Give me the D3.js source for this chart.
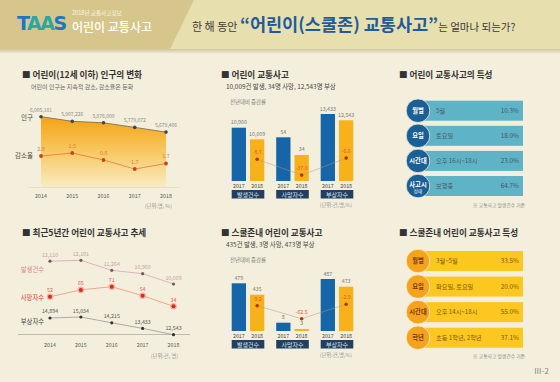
<!DOCTYPE html>
<html><head><meta charset="utf-8">
<script src="https://cdn.jsdelivr.net/npm/d3@7"></script>
<style>
body{margin:0;background:#f3efdc;}
svg{display:block;font-family:"Noto Sans CJK KR","Noto Sans",sans-serif;}
</style>
</head><body>
<svg id="c" width="560" height="382"></svg>
<script>
// ---------- DATA ----------
const years = [2014, 2015, 2016, 2017, 2018];
const population = [6005181, 5907226, 5876009, 5779072, 5679406];
const declineRateLabels = ["2.8", "1.5", "0.8", "1.7", "1.7"];
const declineRateLevel = [2.2, 2.5, 1.8, 0.9, 1.45];

const trendAccidents = [12110, 12191, 11264, 10960, 10009];
const trendDeaths = [52, 65, 71, 54, 34];
const trendInjuries = [14894, 15034, 14215, 13433, 12543];

const cmpCategories = ["발생건수", "사망자수", "부상자수"];
const cmpYears = ["2017", "2018"];
const childAcc2017 = [10960, 54, 13433];
const childAcc2018 = [10009, 34, 12543];
const childAccRate = [-8.7, -37.0, -6.6];
const schoolAcc2017 = [479, 8, 487];
const schoolAcc2018 = [435, 3, 473];
const schoolAccRate = [-9.2, -62.5, -2.9];

const charCats = ["월별", "요일", "시간대", "사고시 상태"];
const charItems = ["5월", "토요일", "오후 16시~18시", "보행중"];
const charPct = [10.3, 18.0, 23.0, 64.7];
const schoolCharCats = ["월별", "요일", "시간대", "학년"];
const schoolCharItems = ["3월~5월", "화요일, 토요일", "오후 14시~18시", "초등 1학년, 2학년"];
const schoolCharPct = [33.5, 20.0, 55.0, 37.1];

// ---------- DRAW ----------
const svg = d3.select("#c");
const fmt = d3.format(",");
const defs = svg.append("defs");

// background
svg.append("rect").attr("width", 560).attr("height", 382).attr("fill", "#f3efdc");

// header
const sh = defs.append("linearGradient").attr("id", "sh").attr("x1", 0).attr("x2", 0).attr("y1", 0).attr("y2", 1);
sh.append("stop").attr("offset", 0).attr("stop-color", "#c8bd92");
sh.append("stop").attr("offset", 1).attr("stop-color", "#f3efdc");
svg.append("rect").attr("x", 0).attr("y", 48).attr("width", 560).attr("height", 6).attr("fill", "url(#sh)");
svg.append("rect").attr("x", 0).attr("y", 0).attr("width", 560).attr("height", 49).attr("fill", "#e8dfae");
svg.append("path").attr("d", "M0,0 L194,0 L170,49 L0,49 Z").attr("fill", "#d6c68c");

const logo = svg.append("text").attr("x", 17).attr("y", 30).attr("font-size", 19).attr("font-weight", 900)
  .attr("font-family", "'DejaVu Sans',sans-serif").attr("letter-spacing", -1.5);
logo.append("tspan").text("T").attr("fill", "#1b78be");
logo.append("tspan").text("AA").attr("fill", "#2aa6a4");
logo.append("tspan").text("S").attr("fill", "#1b78be");
svg.append("text").attr("x", 72).attr("y", 14.5).attr("font-size", 5.6).attr("fill", "#fbf6e0").text("2018년 교통사고정보");
svg.append("text").attr("x", 72).attr("y", 31.5).attr("font-size", 12).attr("font-weight", 500).attr("fill", "#ffffff").text("어린이 교통사고");

const ttl = svg.append("text").attr("x", 192).attr("y", 31).attr("fill", "#3a3a3a");
ttl.append("tspan").attr("font-size", 11).text("한 해 동안 ");
ttl.append("tspan").attr("font-size", 17.5).attr("font-weight", 700).attr("fill", "#1f5b9c").text("“어린이(스쿨존) 교통사고”");
ttl.append("tspan").attr("font-size", 10.5).text("는 얼마나 되는가?");

function title(x, y, t) {
  svg.append("text").attr("x", x).attr("y", y).attr("font-size", 8.6).attr("font-weight", 700)
    .attr("fill", "#333").text("■ " + t);
}
function small(x, y, t, size, color, anchor) {
  return svg.append("text").attr("x", x).attr("y", y).attr("font-size", size).attr("fill", color)
    .attr("text-anchor", anchor || "start").text(t);
}

// ---------- Panel 1: population ----------
title(22, 78, "어린이(12세 이하) 인구의 변화");
small(31, 89, "어린이 인구는 지속적 감소, 감소율은 둔화", 6, "#666");
const x1 = d3.scaleLinear().domain([2014, 2018]).range([41, 166]);
const yPop = d3.scaleLinear().domain([4520000, 6005181]).range([187, 116.7]);
const yRate = d3.scaleLinear().domain([0, 3]).range([178, 148]);
const ag = defs.append("linearGradient").attr("id", "ag").attr("x1", 0).attr("x2", 0).attr("y1", 0).attr("y2", 1);
ag.append("stop").attr("offset", 0).attr("stop-color", "#f4a313");
ag.append("stop").attr("offset", 0.55).attr("stop-color", "#f8cc6a");
ag.append("stop").attr("offset", 1).attr("stop-color", "#f8ecc4");
const popData = years.map((y, i) => ({ y, v: population[i], r: declineRateLevel[i], rl: declineRateLabels[i] }));
svg.append("path").datum(popData).attr("fill", "url(#ag)")
  .attr("d", d3.area().x(d => x1(d.y)).y0(yPop(4520000)).y1(d => yPop(d.v)));
svg.append("path").datum(popData).attr("fill", "none").attr("stroke", "#7a7450").attr("stroke-width", 0.9)
  .attr("d", d3.line().x(d => x1(d.y)).y(d => yPop(d.v)));
svg.append("line").attr("x1", 28).attr("x2", 180).attr("y1", 187.5).attr("y2", 187.5).attr("stroke", "#d8d0b0").attr("stroke-width", 0.6);
svg.selectAll(".pd").data(popData).enter().append("circle").attr("cx", d => x1(d.y)).attr("cy", d => yPop(d.v)).attr("r", 1.8).attr("fill", "#3f4650");
svg.selectAll(".pl").data(popData).enter().append("text").attr("x", d => x1(d.y)).attr("y", d => yPop(d.v) - 5)
  .attr("text-anchor", "middle").attr("font-size", 5).attr("fill", "#888").text(d => fmt(d.v));
svg.append("path").datum(popData).attr("fill", "none").attr("stroke", "#e26b38").attr("stroke-width", 0.7)
  .attr("d", d3.line().x(d => x1(d.y)).y(d => yRate(d.r)));
svg.selectAll(".rd").data(popData).enter().append("circle").attr("cx", d => x1(d.y)).attr("cy", d => yRate(d.r)).attr("r", 1.9).attr("fill", "#c5451c");
svg.selectAll(".rl").data(popData).enter().append("text").attr("x", d => x1(d.y)).attr("y", d => yRate(d.r) - 5.5)
  .attr("text-anchor", "middle").attr("font-size", 5.5).attr("fill", "#e07a3c").text(d => d.rl);
small(33, 119.5, "인구", 6.5, "#444", "end");
small(33, 158, "감소율", 6.5, "#5a4a3a", "end");
svg.selectAll(".x1").data(years).enter().append("text").attr("x", d => x1(d)).attr("y", 197.5)
  .attr("text-anchor", "middle").attr("font-size", 5.3).attr("fill", "#555").text(d => d);
small(172, 208, "(단위:명, %)", 5.3, "#999", "end");

// ---------- Panel 4: trends ----------
title(22, 236, "최근5년간 어린이 교통사고 추세");
const x4 = d3.scaleLinear().domain([2014, 2018]).range([50, 173.5]);
const yAcc = d3.scaleLinear().domain([10009, 12191]).range([284, 260.3]);
const yDeath = d3.scaleLinear().domain([34, 71]).range([306.3, 286.7]);
const yInj = d3.scaleLinear().domain([12543, 15034]).range([334.7, 317]);
svg.append("line").attr("x1", 18).attr("x2", 190).attr("y1", 334.5).attr("y2", 334.5).attr("stroke", "#9a9a90").attr("stroke-width", 0.6);
function trend(vals, ys, lineC, dotC, labC, r, halo) {
  const d = years.map((y, i) => ({ y, v: vals[i] }));
  svg.append("path").datum(d).attr("fill", "none").attr("stroke", lineC).attr("stroke-width", 0.8)
    .attr("d", d3.line().x(p => x4(p.y)).y(p => ys(p.v)));
  if (halo) svg.append("g").selectAll("circle").data(d).enter().append("circle")
    .attr("cx", p => x4(p.y)).attr("cy", p => ys(p.v)).attr("r", r + 1.3).attr("fill", halo);
  svg.append("g").selectAll("circle").data(d).enter().append("circle")
    .attr("cx", p => x4(p.y)).attr("cy", p => ys(p.v)).attr("r", r).attr("fill", dotC);
  svg.append("g").selectAll("text").data(d).enter().append("text")
    .attr("x", p => x4(p.y)).attr("y", p => ys(p.v) - 4.5).attr("text-anchor", "middle")
    .attr("font-size", 5.3).attr("fill", labC).text(p => fmt(p.v));
}
trend(trendAccidents, yAcc, "#d7a4b2", "#6e5a66", "#c89aaa", 1.6);
trend(trendDeaths, yDeath, "#e9957d", "#d42a1f", "#e2574d", 2, "#f2b0a0");
trend(trendInjuries, yInj, "#9a9a96", "#333", "#555", 1.6);
small(44, 271.5, "발생건수", 6.3, "#d5839a", "end");
small(44, 300, "사망자수", 6.3, "#e03b30", "end");
small(44, 323.5, "부상자수", 6.3, "#444", "end");
svg.selectAll(".x4").data(years).enter().append("text").attr("x", d => x4(d)).attr("y", 346.5)
  .attr("text-anchor", "middle").attr("font-size", 5.3).attr("fill", "#555").text(d => d);
small(178, 358, "(단위:건, 명)", 5.3, "#999", "end");

// ---------- Panels 2 & 5: bar comparisons ----------
const xg = d3.scaleBand().domain(cmpCategories).range([231.7, 353.3]).paddingInner(0.267);
const xy = d3.scaleBand().domain(cmpYears).range([0, xg.bandwidth()]).paddingInner(0.22);
function barPanel(v17, v18, rates, bottom, domains, rateScale, ttlY, ttlText, subText) {
  title(221, ttlY, ttlText);
  small(226, ttlY + 10.5, subText, 6.4, "#444");
  small(230, ttlY + 26, "전년대비 증감률", 5.4, "#777");
  const pts = [];
  cmpCategories.forEach((c, i) => {
    const ys = d3.scaleLinear().domain(domains[i]).range([bottom, domains[i][2]]);
    [[v17[i], "2017", "#1565a8"], [v18[i], "2018", "#f7b21b"]].forEach(([v, yr, col]) => {
      svg.append("rect").attr("x", xg(c) + xy(yr)).attr("y", ys(v)).attr("width", xy.bandwidth())
        .attr("height", bottom - ys(v)).attr("fill", col);
      svg.append("text").attr("x", xg(c) + xy(yr) + xy.bandwidth() / 2).attr("y", ys(v) - 3.5)
        .attr("text-anchor", "middle").attr("font-size", 5.3).attr("fill", "#777").text(fmt(v));
      svg.append("text").attr("x", xg(c) + xy(yr) + xy.bandwidth() / 2).attr("y", bottom + 6.5)
        .attr("text-anchor", "middle").attr("font-size", 5.3).attr("fill", "#444").text(yr);
    });
    svg.append("rect").attr("x", xg(c)).attr("y", bottom + 9).attr("width", xg.bandwidth()).attr("height", 8.5).attr("fill", "#233f5f");
    svg.append("text").attr("x", xg(c) + xg.bandwidth() / 2).attr("y", bottom + 15.5).attr("text-anchor", "middle")
      .attr("font-size", 6).attr("fill", "#d3e6f3").text(c);
    pts.push({ x: xg(c) + xy("2018") + xy.bandwidth() / 2, y: rateScale(rates[i]), v: rates[i] });
  });
  svg.append("path").datum(pts).attr("fill", "none").attr("stroke", "#a89a80").attr("stroke-width", 0.5)
    .attr("d", d3.line().x(p => p.x).y(p => p.y));
  svg.append("g").selectAll("circle").data(pts).enter().append("circle").attr("cx", p => p.x).attr("cy", p => p.y).attr("r", 1.8).attr("fill", "#b3350f");
  svg.append("g").selectAll("text").data(pts).enter().append("text").attr("x", p => p.x).attr("y", p => p.y - 5)
    .attr("text-anchor", "middle").attr("font-size", 5.3).attr("fill", "#e0553a").text(p => p.v.toFixed(1));
  small(352, bottom + 26, "(단위:건,명,%)", 5.3, "#999", "end");
}
barPanel(childAcc2017, childAcc2018, childAccRate, 181,
  [[6590, 10960, 127.7], [4.6, 54, 137.3], [3980, 13433, 114]],
  d3.scaleLinear().domain([0, -40]).range([154.4, 176.8]),
  78, "어린이 교통사고", "10,009건 발생, 34명 사망, 12,543명 부상");
barPanel(schoolAcc2017, schoolAcc2018, schoolAccRate, 331,
  [[295, 479, 283.3], [1.41, 8, 322.7], [392, 487, 279]],
  d3.scaleLinear().domain([0, -62.5]).range([303.5, 318.7]),
  236, "스쿨존내 어린이 교통사고", "435건 발생, 3명 사망, 473명 부상");

// ---------- Panels 3 & 6: characteristics ----------
function charPanel(cats, items, pcts, yRange, ttlY, ttlText, barC, circC, circText, itemC, pctC) {
  title(399, ttlY, ttlText);
  const yr = d3.scalePoint().domain(cats).range(yRange);
  cats.forEach((c, i) => {
    const cy = yr(c);
    svg.append("rect").attr("x", 423).attr("y", cy - 10).attr("width", 100).attr("height", 20).attr("fill", barC);
    svg.append("circle").attr("cx", 418).attr("cy", cy).attr("r", 11.8).attr("fill", circC)
      .attr("stroke", "#f3efdc").attr("stroke-width", 0.8);
    const parts = c.split(" ");
    if (parts.length === 1) {
      svg.append("text").attr("x", 418).attr("y", cy + 2.3).attr("text-anchor", "middle").attr("font-size", 6.3)
        .attr("font-weight", 700).attr("fill", circText).text(c);
    } else {
      svg.append("text").attr("x", 418).attr("y", cy + 0.5).attr("text-anchor", "middle").attr("font-size", 6.3)
        .attr("font-weight", 700).attr("fill", circText).text(parts[0]);
      svg.append("text").attr("x", 418).attr("y", cy + 6.5).attr("text-anchor", "middle").attr("font-size", 4.5)
        .attr("fill", circText).text(parts[1]);
    }
    svg.append("text").attr("x", 436).attr("y", cy + 2.2).attr("font-size", 6.2).attr("fill", itemC).text(items[i]);
    svg.append("text").attr("x", 519).attr("y", cy + 2.2).attr("text-anchor", "end").attr("font-size", 6.4)
      .attr("fill", pctC).text(pcts[i].toFixed(1) + "%");
  });
  small(525, yRange[1] + 20.5, "※ 교통사고 발생건수 기준", 4.8, "#888", "end");
}
charPanel(charCats, charItems, charPct, [110.7, 186], 78, "어린이 교통사고의 특성",
  "#5fb3c7", "#1b5f97", "#ffffff", "#4a5a60", "#3f5560");
charPanel(schoolCharCats, schoolCharItems, schoolCharPct, [261, 337.7], 236, "스쿨존내 어린이 교통사고 특성",
  "#fcc71e", "#f5a21d", "#7a3b10", "#7a5a14", "#7a5a14");

small(549, 374, "Ⅲ-2", 8, "#888", "end");
</script>
</body></html>
